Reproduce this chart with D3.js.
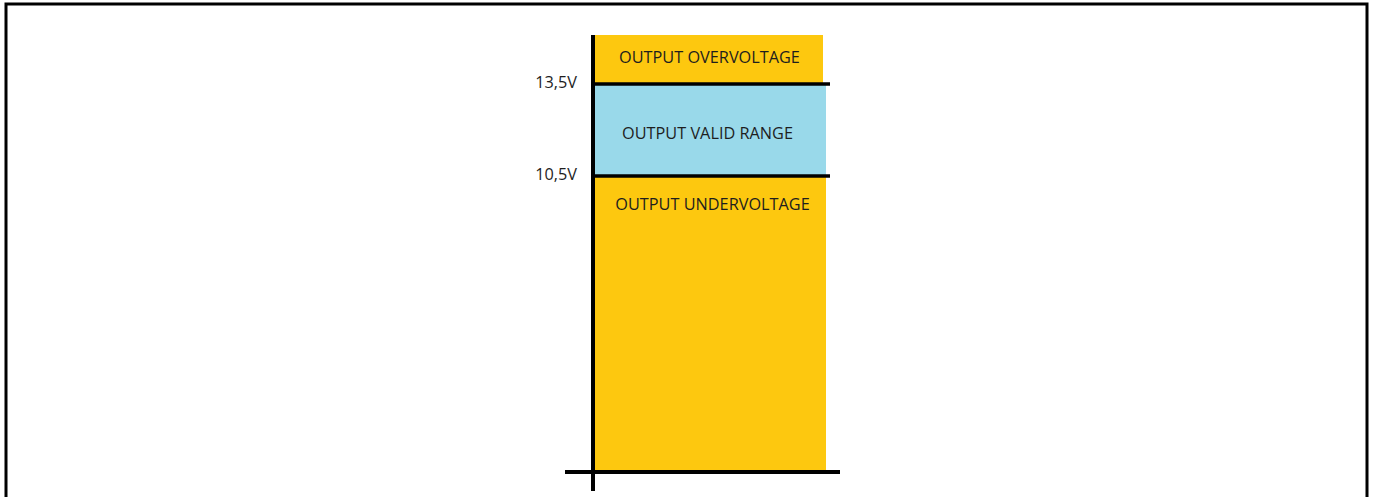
<!DOCTYPE html>
<html><head><meta charset="utf-8">
<script src="https://cdn.jsdelivr.net/npm/d3@7"></script>
<style>
html,body{margin:0;padding:0;background:#fff;}
svg{display:block;}
</style></head>
<body>
<svg id="c" width="1373" height="497"></svg>
<script>
// ---- data ----
const zoneLabels = ["OUTPUT UNDERVOLTAGE", "OUTPUT VALID RANGE", "OUTPUT OVERVOLTAGE"];
const zoneLow    = [0, 10.5, 13.5];
const zoneHigh   = [10.5, 13.5, 15];
const zoneKind   = ["fault", "valid", "fault"];
const thresholds = [10.5, 13.5];
const tickLabels = ["10,5V", "13,5V"];

// ---- layout / style ----
const W = 1373, H = 497;
const colors = {fault: "#FDC80F", valid: "#99D9EA"};
const font = "'Open Sans', 'Liberation Sans', sans-serif";
const textColor = "#1e1e1e";
const fs = 16.3;

const svg = d3.select("#c");

// frame
svg.append("path")
  .attr("d", `M6,${H} V4 H1367 V${H}`)
  .attr("fill", "none").attr("stroke", "#000").attr("stroke-width", 3);

// schematic (piecewise) voltage scale
const y = d3.scaleLinear().domain([0, 10.5, 13.5, 15]).range([472, 176, 84, 35]);
const x = d3.scaleLinear().domain([0, 1]).range([595, 826]);

const zones = zoneLabels.map((l, i) => ({label: l, lo: zoneLow[i], hi: zoneHigh[i], kind: zoneKind[i]}));

// fills
svg.selectAll("rect.zone").data(zones).join("rect")
  .attr("class", "zone")
  .attr("x", x(0))
  .attr("width", (d, i) => x(1) - x(0) - (i === 2 ? 3 : 0))
  .attr("y", d => y(d.hi))
  .attr("height", d => y(d.lo) - y(d.hi))
  .attr("fill", d => colors[d.kind]);

// zone labels
const labelShiftX = [2, -3, -1];
svg.selectAll("text.zl").data(zones).join("text")
  .attr("class", "zl")
  .attr("x", (d, i) => (x(0) + x(1)) / 2 + labelShiftX[i])
  .attr("y", (d, i) => {
    const top = y(d.hi), bot = y(d.lo);
    const c = (bot - top) > 150 ? top + 28 : (top + bot) / 2 + (i === 1 ? 3 : -2);
    return c;
  })
  .attr("dy", "0.35em")
  .attr("text-anchor", "middle")
  .attr("font-family", font).attr("font-size", fs)
  .attr("fill", textColor)
  .text(d => d.label);

// threshold lines
svg.selectAll("line.th").data(thresholds).join("line")
  .attr("class", "th")
  .attr("x1", x(0) - 4).attr("x2", x(1) + 4)
  .attr("y1", d => y(d)).attr("y2", d => y(d))
  .attr("stroke", "#000").attr("stroke-width", 3.5);

// baseline
svg.append("line")
  .attr("x1", x(0) - 30).attr("x2", x(1) + 14)
  .attr("y1", y(0)).attr("y2", y(0))
  .attr("stroke", "#000").attr("stroke-width", 4);

// vertical axis with tick labels
const axis = d3.axisLeft(y)
  .tickValues(thresholds)
  .tickFormat((d, i) => tickLabels[i])
  .tickSize(0).tickPadding(16);
const gA = svg.append("g").attr("transform", `translate(${x(0) - 2},0)`).call(axis);
gA.select(".domain").remove();
gA.selectAll("text")
  .attr("font-family", font).attr("font-size", fs)
  .attr("fill", textColor).attr("dy", "0.22em");
svg.append("line")
  .attr("x1", x(0) - 2).attr("x2", x(0) - 2)
  .attr("y1", y(15)).attr("y2", y(0) + 19)
  .attr("stroke", "#000").attr("stroke-width", 4);
</script>
</body></html>
